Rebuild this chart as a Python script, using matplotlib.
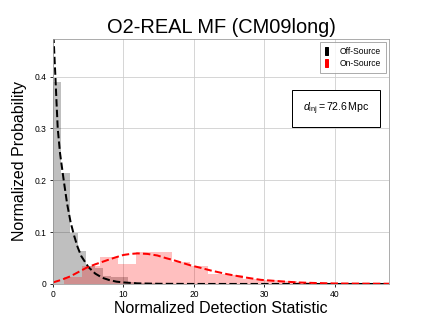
import numpy as np
import matplotlib
matplotlib.use("Agg")
import matplotlib.pyplot as plt
from matplotlib.patches import Patch
from matplotlib.ticker import FuncFormatter

# histogram bins
off_heights = [0.39, 0.214, 0.098, 0.064, 0.035, 0.03, 0.016, 0.014, 0.014,
               0.003, 0.002, 0.001, 0.001]
off_start, off_width = 0.0, 1.18

on_heights = [0.0, 0.013, 0.035, 0.053, 0.039, 0.0625, 0.0625, 0.042, 0.034,
              0.02, 0.017, 0.01, 0.007, 0.005, 0.003, 0.002, 0.001, 0.001, 0.0005]
on_start, on_width = -1.02, 2.55

# fitted curves (read as points)
off_x = [0.0, 0.1, 0.2, 0.34, 0.5, 0.67, 1.0, 1.52, 2.0, 2.5, 3.0, 3.5, 4.0,
         5.0, 6.0, 7.0, 8.0, 9.0, 10.0, 12.0, 15.0, 20.0, 48.0]
off_y = [0.52, 0.47, 0.44, 0.40, 0.35, 0.30, 0.252, 0.20, 0.155, 0.119, 0.093,
         0.071, 0.054, 0.033, 0.020, 0.012, 0.0075, 0.0045, 0.003, 0.0012,
         0.0004, 0.0001, 0.0]

on_x = [0.0, 1.2, 2.5, 3.6, 4.7, 6.0, 7.5, 8.8, 10.0, 11.0, 12.0, 13.4, 14.8,
        16.0, 17.1, 18.3, 19.5, 21.0, 22.4, 24.7, 27.1, 29.5, 32.0, 34.7, 37.0,
        40.0, 44.0, 48.0]
on_y = [0.003, 0.008, 0.015, 0.023, 0.031, 0.038, 0.045, 0.051, 0.056, 0.058,
        0.059, 0.058, 0.055, 0.050, 0.046, 0.041, 0.036, 0.031, 0.026, 0.019,
        0.013, 0.008, 0.0055, 0.003, 0.002, 0.001, 0.0007, 0.0005]

plt.rcParams['font.family'] = ['Liberation Sans', 'DejaVu Sans']
plt.rcParams['mathtext.fontset'] = 'custom'
plt.rcParams['mathtext.rm'] = 'Liberation Sans'
plt.rcParams['mathtext.it'] = 'Liberation Sans:italic'

fig = plt.figure(figsize=(6, 4.5), dpi=72)
ax = fig.add_axes([0.1227, 0.1235, 0.778, 0.7561])

off_left = off_start + off_width * np.arange(len(off_heights))
on_left = on_start + on_width * np.arange(len(on_heights))
ax.bar(off_left, off_heights, width=off_width, align='edge',
       color='black', alpha=0.25, linewidth=0)
ax.bar(on_left, on_heights, width=on_width, align='edge',
       color='red', alpha=0.25, linewidth=0)

ax.plot(off_x, off_y, 'k--', lw=2)
ax.plot(on_x, on_y, 'r--', lw=2)

ax.set_xlim(0, 47.7)
ax.set_ylim(0, 0.4726)
ax.set_xticks([0, 10, 20, 30, 40])
ax.set_yticks([0, 0.1, 0.2, 0.3, 0.4])
ax.yaxis.set_major_formatter(FuncFormatter(lambda v, p: '%g' % round(v, 2)))
ax.tick_params(labelsize=8.5, length=3, color='black')
ax.grid(True, color='#cccccc', lw=0.8)
ax.set_axisbelow(True)
for s in ax.spines.values():
    s.set_color('#999999')

ax.set_title('O2-REAL MF (CM09long)', fontsize=20, pad=6)
ax.set_xlabel('Normalized Detection Statistic', fontsize=16, labelpad=2)
ax.set_ylabel('Normalized Probability', fontsize=16, labelpad=8)

handles = [Patch(color='black'), Patch(color='red')]
leg = ax.legend(handles, ['Off-Source', 'On-Source'], loc='upper right',
                fontsize=8.5, handlelength=0.35, handleheight=1.1, fancybox=False,
                borderpad=0.55, labelspacing=0.35, handletextpad=1.4,
                borderaxespad=0.4)
leg.get_frame().set_edgecolor('#999999')

ax.text(0.842, 0.717, r'$d_{\rm inj} = 72.6\,{\rm Mpc}$', transform=ax.transAxes,
        fontsize=10.5, ha='center', va='center',
        bbox=dict(boxstyle='square,pad=1.0', fc='white', ec='black'))

fig.savefig('out.png', dpi=72)
